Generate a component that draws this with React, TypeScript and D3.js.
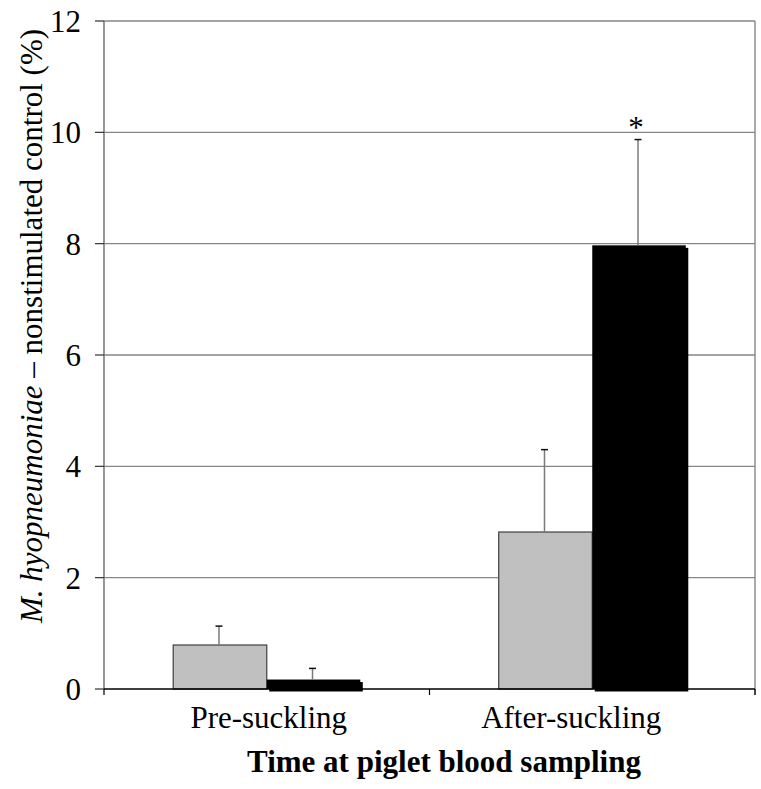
import * as d3 from "d3";

const categories = ["Pre-suckling", "After-suckling"];
const groups = ["gray", "black"];
const grayMeans = [0.79, 2.82];
const grayErrors = [0.34, 1.48];
const blackMeans = [0.17, 7.97];
const blackErrors = [0.2, 1.9];
const blackMarks = ["", "*"];
const yTicks = [0, 2, 4, 6, 8, 10, 12];

const W = 761;
const H = 789;
const FONT = "'Liberation Serif', 'Times New Roman', serif";
const FS = 31;
const labelShift = [2, -21];

export default function App() {
  const x = d3.scaleBand<string>().domain(categories).range([104, 755]).padding(0);
  const inner = d3
    .scaleBand<string>()
    .domain(groups)
    .range([0, x.bandwidth()])
    .paddingInner(0)
    .paddingOuter(0.74);
  const y = d3.scaleLinear().domain([0, 12]).range([689, 21]);

  const series = [
    { key: "gray", means: grayMeans, errs: grayErrors, fill: "#c0c0c0" },
    { key: "black", means: blackMeans, errs: blackErrors, fill: "#000000" },
  ];

  const [x0, x1] = x.range();

  return (
    <div style={{ position: "absolute", left: 0, top: 0 }}>
      <svg width={W} height={H} style={{ display: "block", background: "#fff" }} fontFamily={FONT}>
        {/* grid */}
        {yTicks.filter((t) => t > 0).map((t) => (
          <line key={t} x1={x0} x2={x1} y1={y(t)} y2={y(t)} stroke="#868686" strokeWidth={1.4} />
        ))}
        <line x1={x1} x2={x1} y1={y(12)} y2={y(0) + 6} stroke="#868686" strokeWidth={1.4} />
        <line x1={x0} x2={x0} y1={y(12)} y2={y(0)} stroke="#6a6a6a" strokeWidth={1.4} />

        {/* y ticks */}
        {yTicks.map((t) => (
          <g key={t}>
            <line x1={x0 - 9} x2={x0} y1={y(t)} y2={y(t)} stroke="#333" strokeWidth={1.2} />
            <text x={81} y={y(t) + 11} textAnchor="end" fontSize={FS} fill="#000">
              {t}
            </text>
          </g>
        ))}

        {/* bars */}
        {categories.map((c, i) => (
          <g key={c} transform={`translate(${x(c)},0)`}>
            {series.map((s) => {
              const bx = inner(s.key)!;
              const bw = inner.bandwidth();
              const top = y(s.means[i]);
              const h = y(0) - top;
              return (
                <g key={s.key}>
                  {s.key === "black" && (
                    <rect x={bx + 2.5} y={top + 2.5} width={bw} height={h} fill="#000" />
                  )}
                  <rect
                    x={bx}
                    y={top}
                    width={bw}
                    height={h}
                    fill={s.fill}
                    stroke={s.key === "gray" ? "#4a4a4a" : "none"}
                    strokeWidth={1.3}
                  />
                </g>
              );
            })}
          </g>
        ))}

        {/* x axis */}
        <line x1={x0} x2={x1} y1={y(0)} y2={y(0)} stroke="#000" strokeWidth={1.5} />
        {[x0, ...categories.slice(1).map((c) => x(c)!), x1].map((p, i) => (
          <line key={i} x1={p} x2={p} y1={y(0)} y2={y(0) + 6} stroke="#000" strokeWidth={1.2} />
        ))}

        {/* error bars */}
        {categories.map((c, i) => (
          <g key={c} transform={`translate(${x(c)},0)`}>
            {series.map((s) => {
              const cx = inner(s.key)! + inner.bandwidth() / 2 - 1;
              const top = y(s.means[i] + s.errs[i]);
              return (
                <g key={s.key}>
                  <line x1={cx} x2={cx} y1={y(s.means[i])} y2={top} stroke="#7a7a7a" strokeWidth={1.5} />
                  <line x1={cx - 3.5} x2={cx + 3.5} y1={top} y2={top} stroke="#111" strokeWidth={1.5} />
                  {s.key === "black" && blackMarks[i] && (
                    <text x={cx - 2} y={top - 2} textAnchor="middle" fontSize={FS} fill="#000">
                      {blackMarks[i]}
                    </text>
                  )}
                </g>
              );
            })}
          </g>
        ))}

        {/* category labels */}
        {categories.map((c, i) => (
          <text
            key={c}
            x={x(c)! + x.bandwidth() / 2 + labelShift[i]}
            y={728}
            textAnchor="middle"
            fontSize={FS}
            fill="#000"
          >
            {c}
          </text>
        ))}

        <text x={444} y={772} textAnchor="middle" fontSize={FS} fontWeight="bold" fill="#000">
          Time at piglet blood sampling
        </text>

        <text transform="translate(42,623) rotate(-90)" fontSize={FS} fill="#000">
          <tspan fontStyle="italic">M. hyopneumoniae</tspan>
          <tspan> – nonstimulated control (%)</tspan>
        </text>
      </svg>
    </div>
  );
}
